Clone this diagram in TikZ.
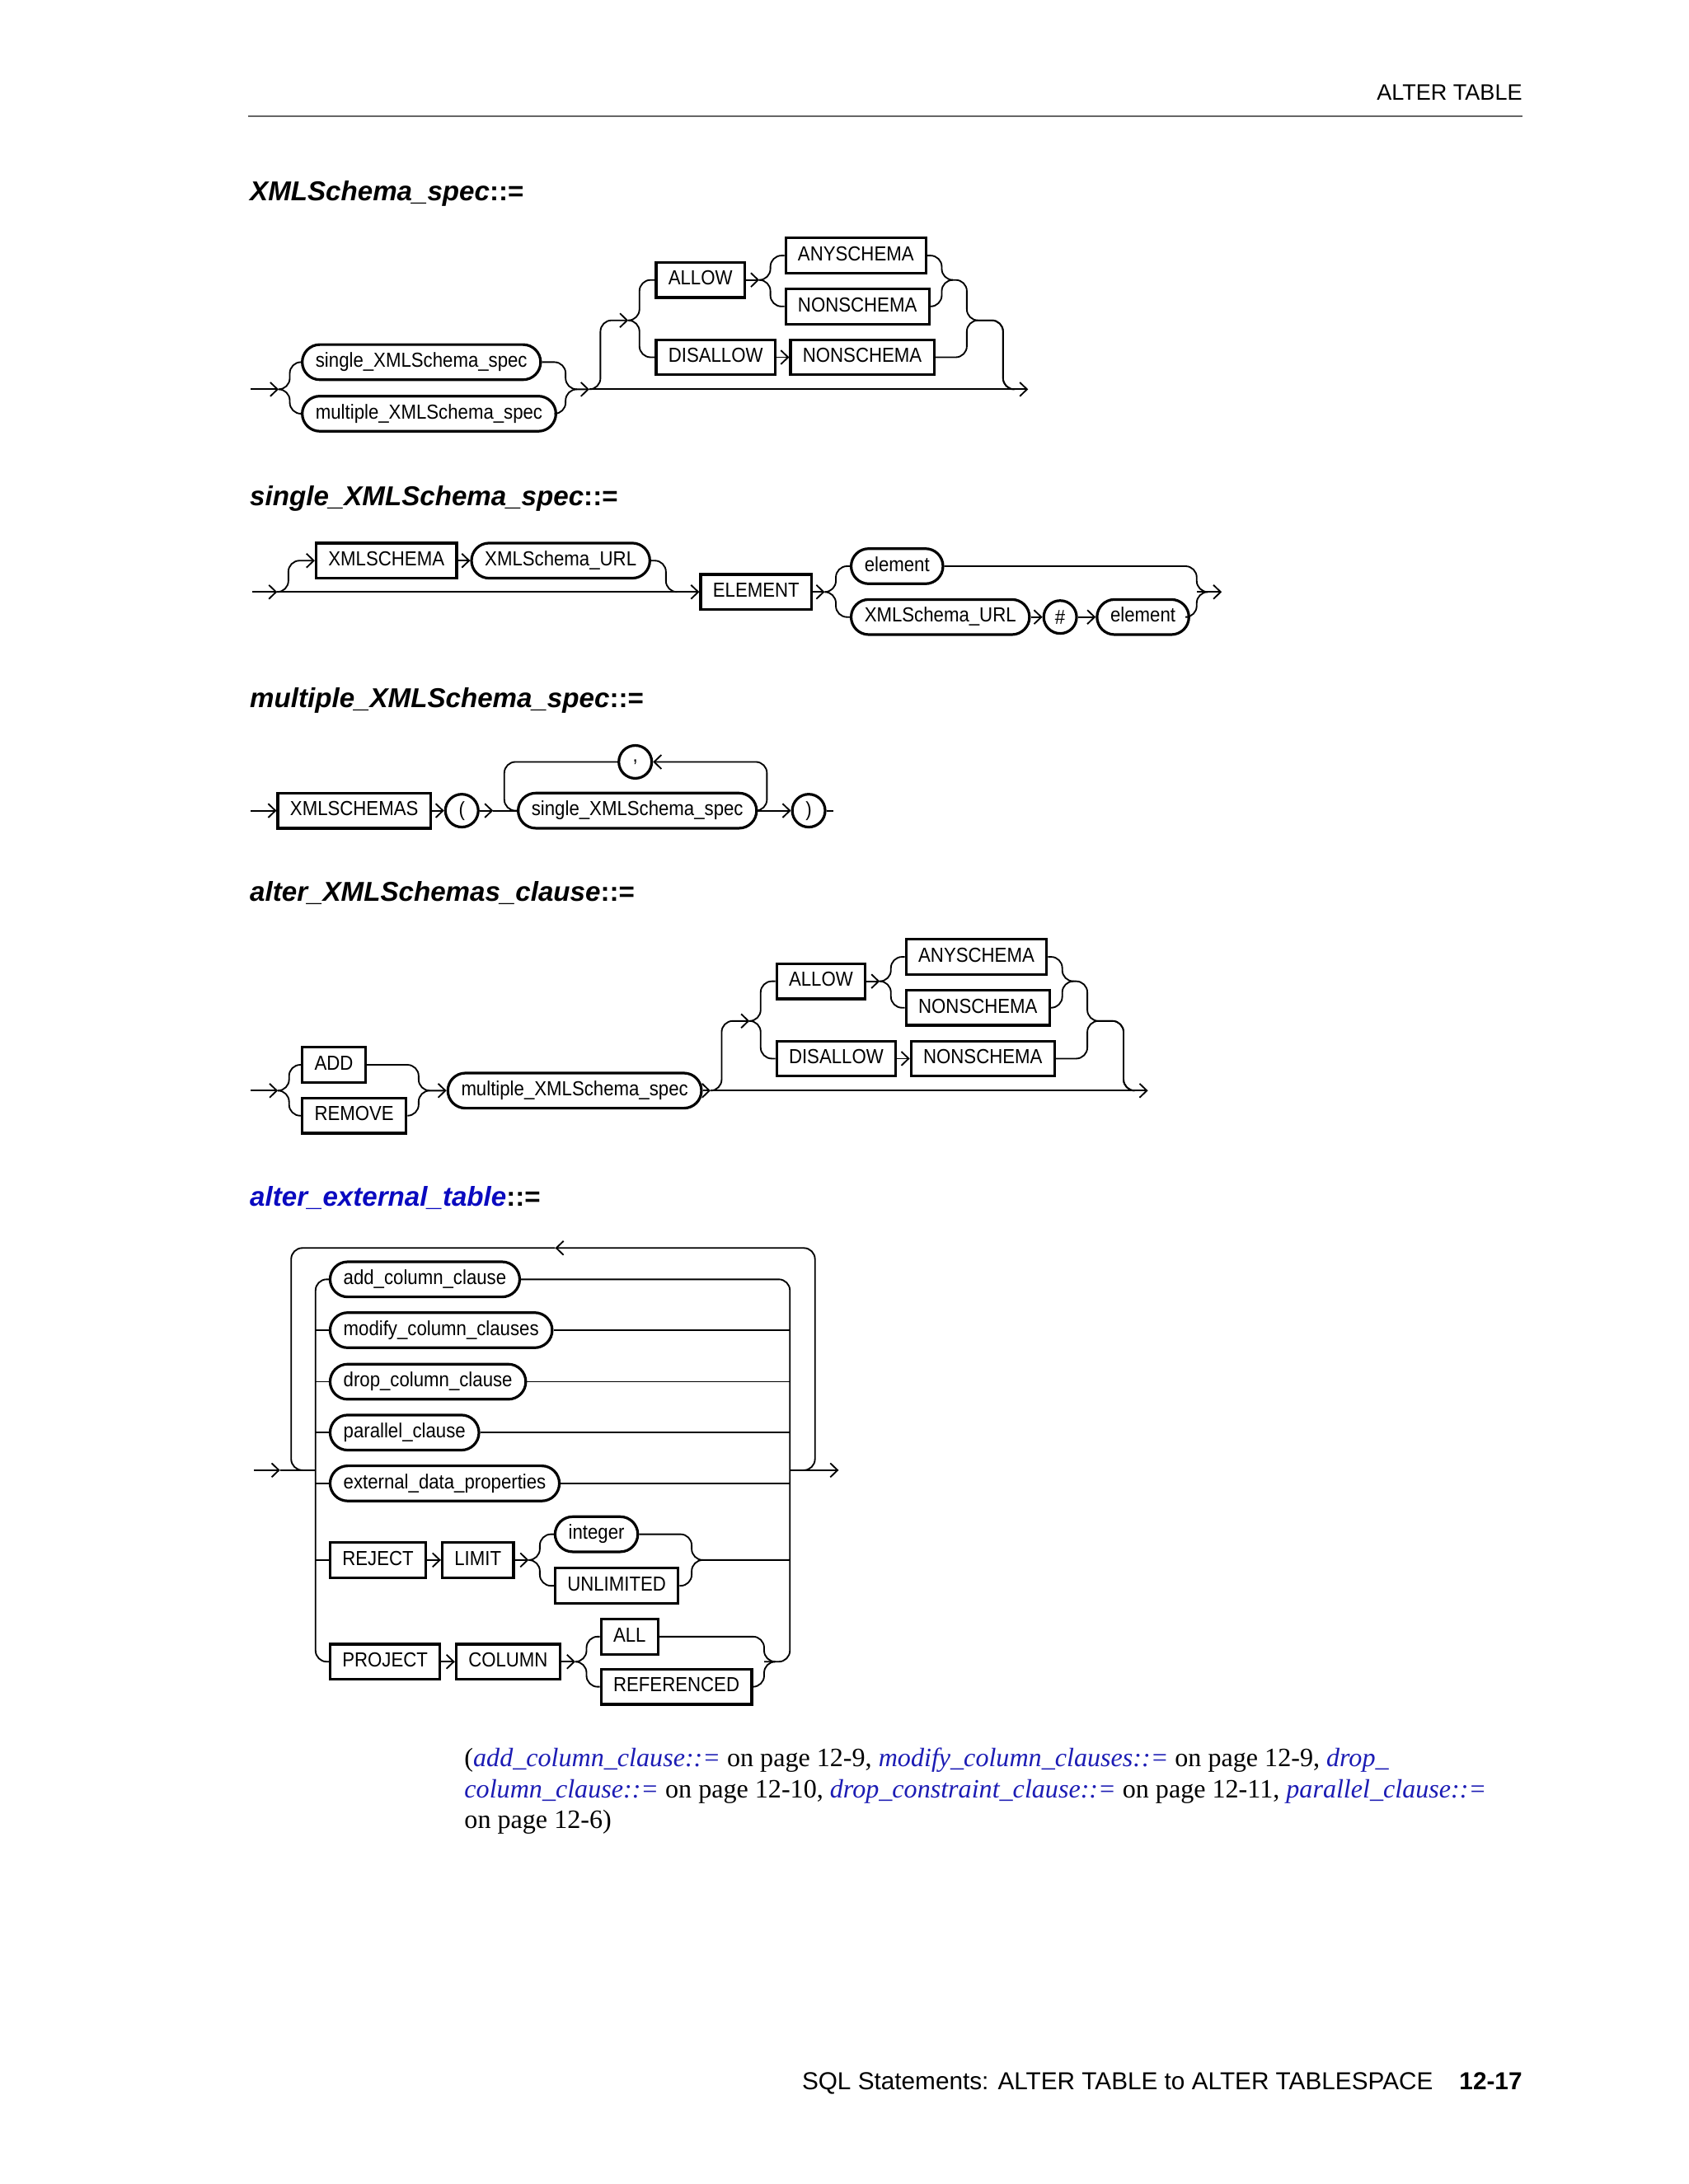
\documentclass[tikz,border=0pt]{standalone}
\usepackage{fontspec}
\setmainfont{Liberation Serif}
\setsansfont{Liberation Sans}
\newfontfamily\railfont[FakeStretch=0.9]{Liberation Sans}
\usepackage{xcolor}
\usetikzlibrary{arrows.meta}
\definecolor{orablue}{HTML}{0A0AC0}
\definecolor{oralink}{HTML}{1C1CB4}
\definecolor{orarule}{HTML}{666666}

\begin{document}
\begin{tikzpicture}[x=0.5pt, y=-0.5pt,
  rail/.style={line width=0.55pt, rounded corners=4pt},
  ar/.style={-{Straight Barb[length=2.6pt,width=5pt]}},
  kw/.style={draw, line width=0.95pt, anchor=west, minimum height=12.6pt,
    inner xsep=4.4pt, inner ysep=0pt, text height=5.3pt, text depth=1.6pt,
    font=\railfont\fontsize{7.3}{8}\selectfont},
  nt/.style={kw, rounded corners=6.3pt, inner xsep=4.8pt},
  sym/.style={draw, line width=0.95pt, circle, minimum size=11.8pt,
    inner sep=0pt, font=\railfont\fontsize{7.3}{8}\selectfont},
  head/.style={anchor=base west, inner sep=0pt,
    font=\sffamily\bfseries\fontsize{9.8}{12}\selectfont},
  note/.style={anchor=base west, inner sep=0pt,
    font=\fontsize{9.5}{11.4}\selectfont},
  ]
  \useasboundingbox (0,0) rectangle (1212,1568);

  % Running head.
  \node[anchor=base east, inner sep=0pt, font=\sffamily\fontsize{8}{10}\selectfont]
    (runhead) at (1093,72) {ALTER TABLE};
  \draw[orarule, line width=0.7pt] (178,83.5) -- (1093,83.5);

  % XMLSchema_spec.
  \node[head] (head1) at (179,144) {\itshape XMLSchema\_spec\upshape::=};
  \node[nt] (single) at (216,260) {single\_XMLSchema\_spec};
  \node[nt] (multi) at (216,297) {multiple\_XMLSchema\_spec};
  \node[kw] (allow) at (470,201) {ALLOW};
  \node[kw] (anyschema) at (563,183.5) {ANYSCHEMA};
  \node[kw] (nonschema) at (563,220) {NONSCHEMA};
  \node[kw] (disallow) at (470,256.5) {DISALLOW};
  \node[kw] (nonschemab) at (566.5,256.5) {NONSCHEMA};
  \coordinate (in1) at (180,279.5);
  \coordinate (fork1) at (208,279.5);
  \coordinate (join1) at (406,279.5);
  \coordinate (up1) at (431,279.5);
  \coordinate (opt1) at (459,230);
  \coordinate (fork1a) at (553,201);
  \coordinate (join1a) at (676,201);
  \coordinate (join1b) at (694,230);
  \coordinate (back1) at (720,279.5);
  \coordinate (out1) at (738,279.5);

  \draw[rail,ar] (in1) -- ([xshift=-4pt]fork1);
  \draw[rail] ([xshift=-4pt]fork1) -- (fork1) |- (single.west);
  \draw[rail] ([xshift=-4pt]fork1) -- (fork1) |- (multi.west);
  \draw[rail] (single.east) -| (join1) -- ([xshift=4pt]join1);
  \draw[rail,ar] (multi.east) -| (join1) -- ([xshift=-4pt]up1);
  \draw[rail,ar] ([xshift=-4pt]up1) -- (out1);
  \draw[rail,ar] ([xshift=-4pt]up1) -- (up1) |- ([xshift=-4pt]opt1);
  \draw[rail] ([xshift=-4pt]opt1) -- (opt1) |- (allow.west);
  \draw[rail] ([xshift=-4pt]opt1) -- (opt1) |- (disallow.west);
  \draw[rail,ar] (allow.east) -- ([xshift=-4pt]fork1a);
  \draw[rail] ([xshift=-4pt]fork1a) -- (fork1a) |- (anyschema.west);
  \draw[rail] ([xshift=-4pt]fork1a) -- (fork1a) |- (nonschema.west);
  \draw[rail] (anyschema.east) -| (join1a) -- ([xshift=4pt]join1a);
  \draw[rail] (nonschema.east) -| (join1a) -| (join1b) -| (back1) -- ([xshift=4pt]back1);
  \draw[rail,ar] (disallow.east) -- (nonschemab.west);
  \draw[rail] (nonschemab.east) -| (join1b) -| (back1) -- ([xshift=4pt]back1);

  % single_XMLSchema_spec.
  \node[head] (head2) at (179,363) {\itshape single\_XMLSchema\_spec\upshape::=};
  \node[kw] (xmlschema) at (226,402.5) {XMLSCHEMA};
  \node[nt] (schemaurl) at (337.5,402.5) {XMLSchema\_URL};
  \node[kw] (element) at (502,425) {ELEMENT};
  \node[nt] (elema) at (610,406.5) {element};
  \node[nt] (schemaurlb) at (610,443) {XMLSchema\_URL};
  \node[sym] (hash) at (761,443) {\#};
  \node[nt] (elemb) at (786.5,443) {element};
  \coordinate (in2) at (181,425);
  \coordinate (up2) at (207,425);
  \coordinate (join2) at (478,425);
  \coordinate (fork2) at (600,425);
  \coordinate (join2a) at (859,425);
  \coordinate (out2) at (877,425);

  \draw[rail,ar] (in2) -- ([xshift=-4pt]up2);
  \draw[rail,ar] ([xshift=-4pt]up2) -- (element.west);
  \draw[rail,ar] ([xshift=-4pt]up2) -- (up2) |- (xmlschema.west);
  \draw[rail,ar] (xmlschema.east) -- (schemaurl.west);
  \draw[rail] (schemaurl.east) -| (join2) -- ([xshift=4pt]join2);
  \draw[rail,ar] (element.east) -- ([xshift=-4pt]fork2);
  \draw[rail] ([xshift=-4pt]fork2) -- (fork2) |- (elema.west);
  \draw[rail] ([xshift=-4pt]fork2) -- (fork2) |- (schemaurlb.west);
  \draw[rail,ar] (schemaurlb.east) -- (hash.west);
  \draw[rail,ar] (hash.east) -- (elemb.west);
  \draw[rail] (elema.east) -| (join2a) -- ([xshift=4pt]join2a);
  \draw[rail] (elemb.east) -| (join2a) -- ([xshift=4pt]join2a);
  \draw[rail,ar] (join2a) -- (out2);

  % multiple_XMLSchema_spec.
  \node[head] (head3) at (179,508) {\itshape multiple\_XMLSchema\_spec\upshape::=};
  \node[kw] (xmlschemas) at (198.5,582) {XMLSCHEMAS};
  \node[sym] (lparen) at (331.5,582) {(};
  \node[nt] (singleb) at (371,582) {single\_XMLSchema\_spec};
  \node[sym] (comma) at (456,547) {,};
  \node[sym] (rparen) at (580.5,582) {)};
  \coordinate (in3) at (180,582);
  \coordinate (loopl3) at (362,582);
  \coordinate (loopr3) at (550.5,582);
  \coordinate (out3) at (598,582);

  \draw[rail,ar] (in3) -- (xmlschemas.west);
  \draw[rail,ar] (xmlschemas.east) -- (lparen.west);
  \draw[rail,ar] (lparen.east) -- ([xshift=-4pt]loopl3);
  \draw[rail] ([xshift=-4pt]loopl3) -- (singleb.west);
  \draw[rail,ar] (singleb.east) -- (rparen.west);
  \draw[rail,ar] (singleb.east) -- (loopr3) |- (comma.east);
  \draw[rail] (comma.west) -| (loopl3) -- (singleb.west);
  \draw[rail] (rparen.east) -- (out3);

  % alter_XMLSchemas_clause.
  \node[head] (head4) at (179,647) {\itshape alter\_XMLSchemas\_clause\upshape::=};
  \node[kw] (add) at (216,764.5) {ADD};
  \node[kw] (remove) at (216,801) {REMOVE};
  \node[nt] (multib) at (320.5,783) {multiple\_XMLSchema\_spec};
  \node[kw] (allowb) at (556.5,704.5) {ALLOW};
  \node[kw] (anyschemab) at (649.5,687) {ANYSCHEMA};
  \node[kw] (nonschemac) at (649.5,723.5) {NONSCHEMA};
  \node[kw] (disallowb) at (556.5,760) {DISALLOW};
  \node[kw] (nonschemad) at (653,760) {NONSCHEMA};
  \coordinate (in4) at (180,783);
  \coordinate (fork4) at (207.5,783);
  \coordinate (join4) at (300.5,783);
  \coordinate (up4) at (518,783);
  \coordinate (opt4) at (546,733);
  \coordinate (fork4a) at (639.5,704.5);
  \coordinate (join4a) at (762.5,704.5);
  \coordinate (join4b) at (780.5,733);
  \coordinate (back4) at (806.5,783);
  \coordinate (out4) at (824,783);

  \draw[rail,ar] (in4) -- ([xshift=-4pt]fork4);
  \draw[rail] ([xshift=-4pt]fork4) -- (fork4) |- (add.west);
  \draw[rail] ([xshift=-4pt]fork4) -- (fork4) |- (remove.west);
  \draw[rail] (add.east) -| (join4) -- ([xshift=4pt]join4);
  \draw[rail,ar] (remove.east) -| (join4) -- (multib.west);
  \draw[rail,ar] (multib.east) -- ([xshift=-4pt]up4);
  \draw[rail,ar] ([xshift=-4pt]up4) -- (out4);
  \draw[rail,ar] ([xshift=-4pt]up4) -- (up4) |- ([xshift=-4pt]opt4);
  \draw[rail] ([xshift=-4pt]opt4) -- (opt4) |- (allowb.west);
  \draw[rail] ([xshift=-4pt]opt4) -- (opt4) |- (disallowb.west);
  \draw[rail,ar] (allowb.east) -- ([xshift=-4pt]fork4a);
  \draw[rail] ([xshift=-4pt]fork4a) -- (fork4a) |- (anyschemab.west);
  \draw[rail] ([xshift=-4pt]fork4a) -- (fork4a) |- (nonschemac.west);
  \draw[rail] (anyschemab.east) -| (join4a) -- ([xshift=4pt]join4a);
  \draw[rail] (nonschemac.east) -| (join4a) -| (join4b) -| (back4) -- ([xshift=4pt]back4);
  \draw[rail,ar] (disallowb.east) -- (nonschemad.west);
  \draw[rail] (nonschemad.east) -| (join4b) -| (back4) -- ([xshift=4pt]back4);

  % alter_external_table.
  \node[head] (head5) at (179,866)
    {\textcolor{orablue}{\itshape alter\_external\_table}::=};
  \node[nt] (addcol) at (236,918.5) {add\_column\_clause};
  \node[nt] (modcol) at (236,955) {modify\_column\_clauses};
  \node[nt] (dropcol) at (236,992) {drop\_column\_clause};
  \node[nt] (parallel) at (236,1028.5) {parallel\_clause};
  \node[nt] (extdata) at (236,1065) {external\_data\_properties};
  \node[kw] (reject) at (236,1120) {REJECT};
  \node[kw] (limit) at (316.5,1120) {LIMIT};
  \node[nt] (integer) at (397.5,1101.5) {integer};
  \node[kw] (unlimited) at (397.5,1138.5) {UNLIMITED};
  \node[kw] (project) at (236,1193) {PROJECT};
  \node[kw] (column) at (326.5,1193) {COLUMN};
  \node[kw] (all) at (430.5,1175) {ALL};
  \node[kw] (referenced) at (430.5,1211) {REFERENCED};
  \coordinate (in5) at (182.5,1055.5);
  \coordinate (loopl5) at (209,1055.5);
  \coordinate (fork5) at (226.5,1055.5);
  \coordinate (join5) at (567,1055.5);
  \coordinate (loopr5) at (585,1055.5);
  \coordinate (top5) at (398.5,896);
  \coordinate (out5) at (602,1055.5);
  \coordinate (fork5a) at (387.5,1120);
  \coordinate (join5a) at (496.5,1120);
  \coordinate (fork5b) at (421,1193);
  \coordinate (join5b) at (548.5,1193);

  \draw[rail,ar] (in5) -- ([xshift=-4pt]loopl5);
  \draw[rail] ([xshift=-4pt]loopl5) -- (fork5);
  \draw[rail] (addcol.west) -| (fork5) |- (project.west);
  \foreach \row in {modcol,dropcol,parallel,extdata,reject}
    \draw[rail] (\row.west) -- (\row.west -| fork5);
  \draw[rail] (addcol.east) -| (join5) |- (join5b);
  \foreach \row in {modcol,dropcol,parallel,extdata}
    \draw[rail] (\row.east) -- (\row.east -| join5);
  \draw[rail,ar] (join5) -- (out5);
  \draw[rail,ar] ([xshift=-4pt]loopr5) -- (loopr5) |- (top5);
  \draw[rail] (top5) -| (loopl5) -- ([xshift=4pt]loopl5);
  \draw[rail,ar] (reject.east) -- (limit.west);
  \draw[rail,ar] (limit.east) -- ([xshift=-4pt]fork5a);
  \draw[rail] ([xshift=-4pt]fork5a) -- (fork5a) |- (integer.west);
  \draw[rail] ([xshift=-4pt]fork5a) -- (fork5a) |- (unlimited.west);
  \draw[rail] (integer.east) -| (join5a) -- ([xshift=4pt]join5a);
  \draw[rail] (unlimited.east) -| (join5a) -- (join5a -| join5);
  \draw[rail,ar] (project.east) -- (column.west);
  \draw[rail,ar] (column.east) -- ([xshift=-4pt]fork5b);
  \draw[rail] ([xshift=-4pt]fork5b) -- (fork5b) |- (all.west);
  \draw[rail] ([xshift=-4pt]fork5b) -- (fork5b) |- (referenced.west);
  \draw[rail] (all.east) -| (join5b) -- ([xshift=4pt]join5b);
  \draw[rail] (referenced.east) -| (join5b) -- ([xshift=4pt]join5b);

  % Cross references.
  \node[note] (note1) at (333,1268.5) {(\textcolor{oralink}{\itshape add\_column\_clause::=}
    on page 12-9, \textcolor{oralink}{\itshape modify\_column\_clauses::=} on page 12-9,
    \textcolor{oralink}{\itshape drop\_}};
  \node[note] (note2) at (333,1290.5) {\textcolor{oralink}{\itshape column\_clause::=}
    on page 12-10, \textcolor{oralink}{\itshape drop\_constraint\_clause::=} on page 12-11,
    \textcolor{oralink}{\itshape parallel\_clause::=}};
  \node[note] (note3) at (333,1312.5) {on page 12-6)};

  % Running foot.
  \node[anchor=base east, inner sep=0pt, font=\sffamily\bfseries\fontsize{8.8}{10}\selectfont]
    (folio) at (1093,1500) {12-17};
  \node[anchor=base east, inner sep=0pt, font=\sffamily\fontsize{8.8}{10}\selectfont]
    (runfoot) at (1029,1500) {SQL Statements: ALTER TABLE to ALTER TABLESPACE};
\end{tikzpicture}
\end{document}
